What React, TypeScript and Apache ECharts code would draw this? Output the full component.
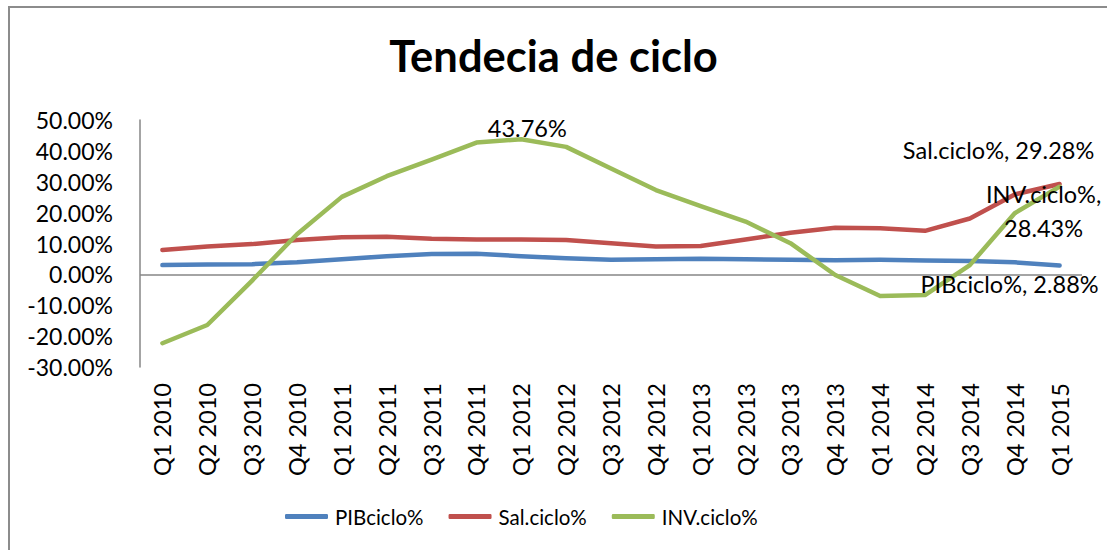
import React, { useEffect, useRef } from "react";
import * as echarts from "echarts";

const categories = [
  "Q1 2010", "Q2 2010", "Q3 2010", "Q4 2010",
  "Q1 2011", "Q2 2011", "Q3 2011", "Q4 2011",
  "Q1 2012", "Q2 2012", "Q3 2012", "Q4 2012",
  "Q1 2013", "Q2 2013", "Q3 2013", "Q4 2013",
  "Q1 2014", "Q2 2014", "Q3 2014", "Q4 2014",
  "Q1 2015",
];

const pibCiclo = [3.0, 3.2, 3.3, 3.9, 4.9, 5.9, 6.6, 6.7, 5.9, 5.2, 4.7, 4.9, 5.1, 4.9, 4.7, 4.6, 4.7, 4.5, 4.3, 3.9, 2.88];
const salCiclo = [7.9, 9.0, 9.8, 11.1, 12.0, 12.2, 11.5, 11.3, 11.3, 11.1, 10.1, 9.0, 9.2, 11.3, 13.5, 15.1, 14.9, 14.1, 18.1, 25.9, 29.28];
const invCiclo = [-22.3, -16.4, -2.0, 13.0, 25.1, 31.8, 37.2, 42.7, 43.76, 41.3, 34.3, 27.3, 22.1, 17.1, 10.1, -0.2, -7.0, -6.7, 3.0, 19.8, 28.43];

const yTicks = { min: -30, max: 50, interval: 10 };

const FONT = "Lato";

type LabelSpec = { index: number; text: (name: string, v: number) => string; offset: [number, number] };

const pibLabels: LabelSpec[] = [{ index: 20, text: (n, v) => `${n}, ${v.toFixed(2)}%`, offset: [-50, 19] }];
const salLabels: LabelSpec[] = [{ index: 20, text: (n, v) => `${n}, ${v.toFixed(2)}%`, offset: [-61, -34] }];
const invLabels: LabelSpec[] = [
  { index: 8, text: (_n, v) => `${v.toFixed(2)}%`, offset: [6, -11] },
  { index: 20, text: (n, v) => `${n},\n${v.toFixed(2)}%`, offset: [-16, 24] },
];

function buildData(name: string, values: number[], labels: LabelSpec[]) {
  return values.map((v, i) => {
    const spec = labels.find((l) => l.index === i);
    if (!spec) return v;
    return {
      value: v,
      label: {
        show: true,
        position: "inside",
        offset: spec.offset,
        formatter: spec.text(name, v),
        color: "#000",
        fontFamily: FONT,
        fontSize: 23.5,
        lineHeight: 34,
      },
    };
  });
}

export default function App() {
  const ref = useRef<HTMLDivElement>(null);
  useEffect(() => {
    if (!ref.current) return;
    const chart = echarts.init(ref.current, undefined, { renderer: "svg" });
    const mkSeries = (name: string, values: number[], color: string, labels: LabelSpec[]) => ({
      name,
      type: "line",
      data: buildData(name, values, labels),
      showSymbol: true,
      symbol: "circle",
      symbolSize: 1,
      itemStyle: { color },
      lineStyle: { color, width: 4.5, cap: "round", join: "round" },
      emphasis: { disabled: true },
      z: 3,
    });
    chart.setOption({
      animation: false,
      backgroundColor: "#fff",
      textStyle: { fontFamily: FONT },
      title: {
        text: "Tendecia de ciclo",
        left: "center",
        top: 28,
        textStyle: { fontFamily: FONT, fontWeight: "bold", fontSize: 43.5, color: "#000" },
      },
      legend: {
        left: 280,
        top: 501,
        data: ["PIBciclo%", "Sal.ciclo%", "INV.ciclo%"],
        icon: "roundRect",
        itemWidth: 43,
        itemHeight: 5,
        itemGap: 25,
        textStyle: { fontFamily: FONT, fontSize: 20.5, color: "#000", padding: [0, 0, 0, 2] },
      },
      grid: { left: 140, right: 25, top: 120, bottom: 183, containLabel: false },
      xAxis: {
        type: "category",
        data: categories,
        boundaryGap: true,
        axisLine: { show: false, onZero: false },
        axisTick: { show: false },
        axisLabel: { rotate: 90, margin: 16, fontFamily: FONT, fontSize: 23.5, color: "#000", interval: 0 },
        splitLine: { show: false },
      },
      yAxis: {
        type: "value",
        min: yTicks.min,
        max: yTicks.max,
        interval: yTicks.interval,
        axisLine: { show: true, lineStyle: { color: "#868686", width: 1.5 } },
        axisTick: { show: false },
        splitLine: { show: false },
        axisLabel: {
          margin: 27,
          fontFamily: FONT,
          fontSize: 23,
          color: "#000",
          formatter: (v: number) => `${v.toFixed(2)}%`,
        },
      },
      graphic: [
        {
          type: "rect",
          shape: { x: 9, y: 7, width: 1200, height: 700 },
          style: { fill: "none", stroke: "#8c8c8c", lineWidth: 2 },
          silent: true,
        },
      ],
      series: [
        {
          ...mkSeries("PIBciclo%", pibCiclo, "#4F81BD", pibLabels),
          markLine: {
            silent: true,
            symbol: "none",
            label: { show: false },
            lineStyle: { color: "#868686", width: 1.5, type: "solid" },
            data: [{ yAxis: 0 }],
            z: 1,
          },
        },
        mkSeries("Sal.ciclo%", salCiclo, "#C0504D", salLabels),
        mkSeries("INV.ciclo%", invCiclo, "#9BBB59", invLabels),
      ],
    });
    return () => chart.dispose();
  }, []);
  return <div ref={ref} style={{ position: "absolute", left: 0, top: 0, width: 1107, height: 550 }} />;
}
